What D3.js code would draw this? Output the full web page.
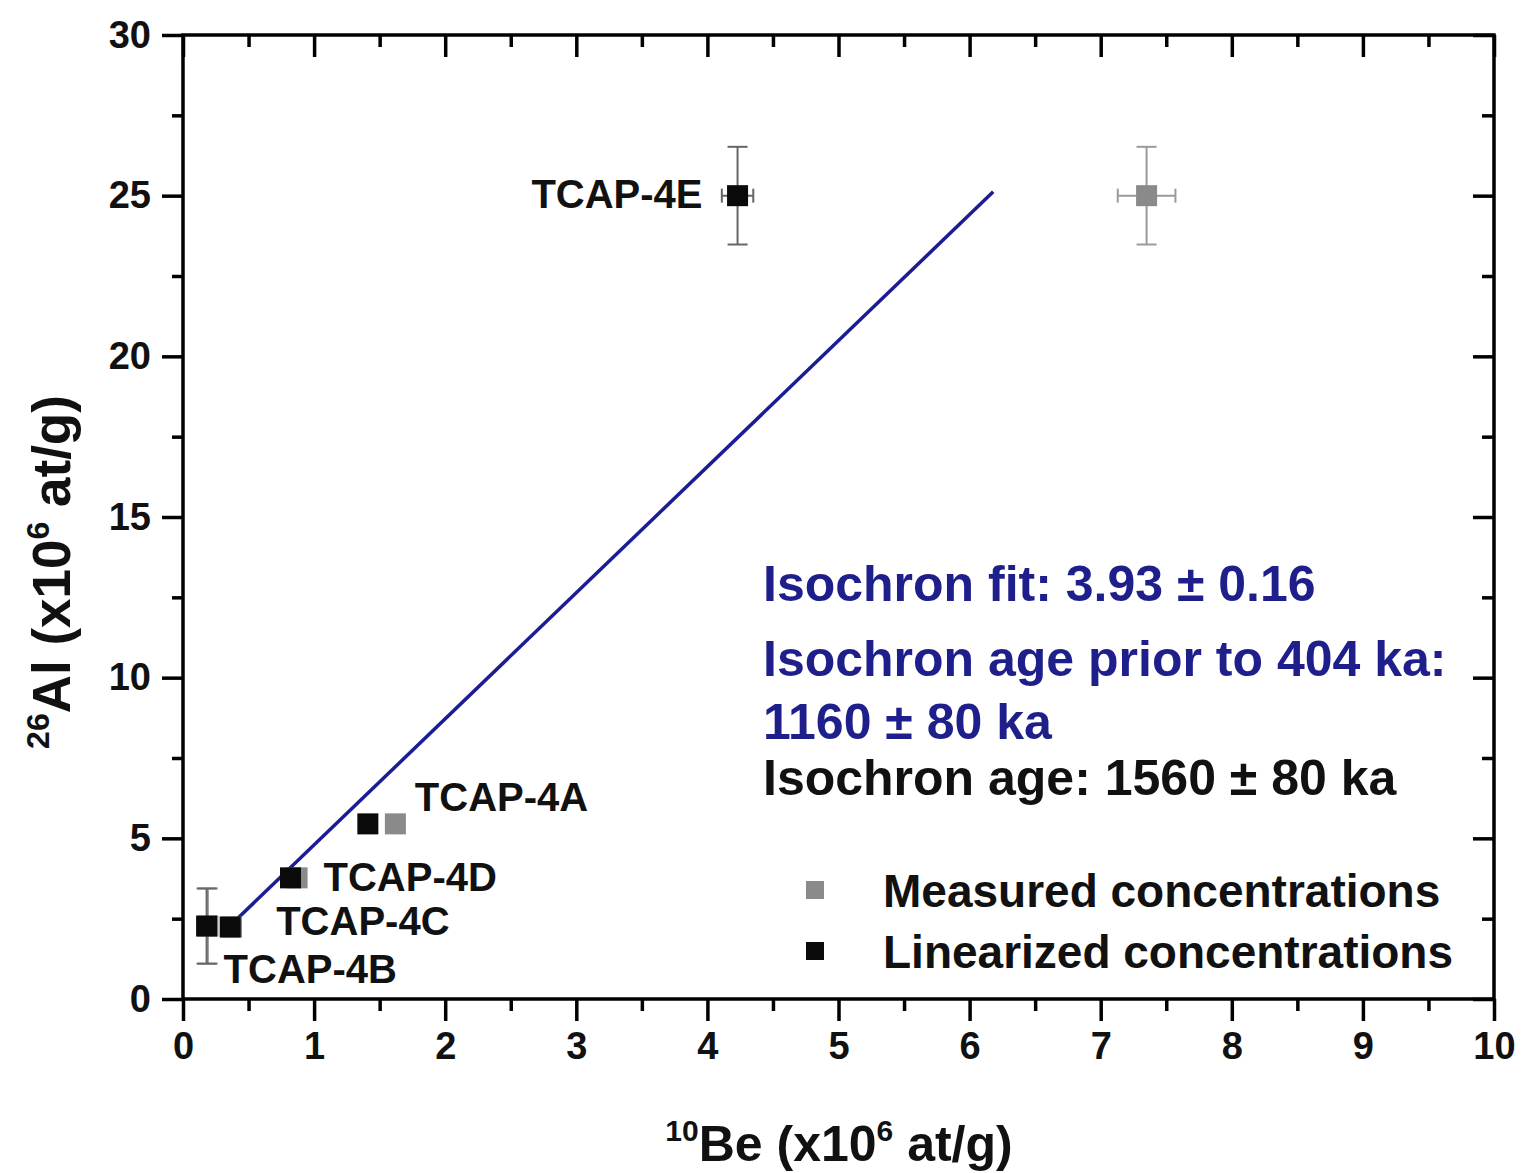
<!DOCTYPE html>
<html>
<head>
<meta charset="utf-8">
<script src="https://cdn.jsdelivr.net/npm/d3@7"></script>
<style>
body { margin: 0; background: #fff; }
svg { display: block; font-family: "Liberation Sans", Arial, sans-serif; font-weight: bold; }
</style>
</head>
<body>
<script>
var width = 1522,
	height = 1173;

var margin = {left: 183, right: 28, top: 35, bottom: 174};

// Samples (x10^6 at/g)
var samples = ["TCAP-4B", "TCAP-4C", "TCAP-4D", "TCAP-4A", "TCAP-4E"];
var measuredBe = [0.19, 0.37, 0.87, 1.62, 7.35];
var linearBe = [0.18, 0.36, 0.82, 1.41, 4.23];
var al = [2.27, 2.24, 3.77, 5.45, 25.0];
var alErr = [1.17, 0, 0, 0, 1.52];
var measuredBeErr = [0, 0, 0, 0, 0.22];
var linearBeErr = [0, 0, 0, 0, 0.12];

// Isochron fit line end points
var fitBe = [0.42, 6.18];
var fitAl = [2.52, 25.12];

var xTicks = [0, 1, 2, 3, 4, 5, 6, 7, 8, 9, 10];
var yTicks = [0, 5, 10, 15, 20, 25, 30];

var notes = [
	{text: "Isochron fit: 3.93 \u00b1 0.16", color: "#1f1f8c"},
	{text: "Isochron age prior to 404 ka:", color: "#1f1f8c"},
	{text: "1160 \u00b1 80 ka", color: "#1f1f8c"},
	{text: "Isochron age: 1560 \u00b1 80 ka", color: "#111"}
];
var legendLabels = ["Measured concentrations", "Linearized concentrations"];

var grey = "#8a8a8a",
	black = "#0a0a0a",
	fitColor = "#1c1c94";

var x = d3.scaleLinear()
	.domain([0, 10])
	.range([margin.left, width - margin.right]);

var y = d3.scaleLinear()
	.domain([0, 30])
	.range([height - margin.bottom, margin.top]);

var svg = d3.select("body").append("svg")
	.attr("width", width)
	.attr("height", height);

// minor tick positions
var xMinor = d3.range(0.5, 10, 1);
var yMinor = d3.range(2.5, 30, 5);

function styleAxis(g) {
	g.select(".domain").remove();
	g.selectAll("line").attr("stroke", "#000").attr("stroke-width", 3.5);
	g.selectAll("text").attr("fill", "#111").style("font-size", "38px").style("font-weight", "bold");
}

// bottom axis
svg.append("g")
	.attr("transform", "translate(0," + y(0) + ")")
	.call(d3.axisBottom(x).tickValues(xTicks).tickSize(22).tickPadding(11).tickFormat(d3.format("d")))
	.call(styleAxis);
svg.append("g")
	.attr("transform", "translate(0," + y(0) + ")")
	.call(d3.axisBottom(x).tickValues(xMinor).tickSize(12).tickFormat(""))
	.call(styleAxis);

// left axis
svg.append("g")
	.attr("transform", "translate(" + x(0) + ",0)")
	.call(d3.axisLeft(y).tickValues(yTicks).tickSize(21).tickPadding(11).tickFormat(d3.format("d")))
	.call(styleAxis);
svg.append("g")
	.attr("transform", "translate(" + x(0) + ",0)")
	.call(d3.axisLeft(y).tickValues(yMinor).tickSize(11).tickFormat(""))
	.call(styleAxis);

// top and right axes, ticks inward
svg.append("g")
	.attr("transform", "translate(0," + y(30) + ")")
	.call(d3.axisBottom(x).tickValues(xTicks).tickSize(22).tickFormat(""))
	.call(styleAxis);
svg.append("g")
	.attr("transform", "translate(0," + y(30) + ")")
	.call(d3.axisBottom(x).tickValues(xMinor).tickSize(12).tickFormat(""))
	.call(styleAxis);
svg.append("g")
	.attr("transform", "translate(" + x(10) + ",0)")
	.call(d3.axisLeft(y).tickValues(yTicks).tickSize(21).tickFormat(""))
	.call(styleAxis);
svg.append("g")
	.attr("transform", "translate(" + x(10) + ",0)")
	.call(d3.axisLeft(y).tickValues(yMinor).tickSize(12).tickFormat(""))
	.call(styleAxis);

// frame
svg.append("rect")
	.attr("x", x(0))
	.attr("y", y(30))
	.attr("width", x(10) - x(0))
	.attr("height", y(0) - y(30))
	.attr("fill", "none")
	.attr("stroke", "#000")
	.attr("stroke-width", 3.5);

// Axis titles
var xt = svg.append("text")
	.attr("x", 839)
	.attr("y", 1161)
	.attr("text-anchor", "middle")
	.style("font-size", "50px")
	.attr("fill", "#111");
xt.append("tspan").attr("dy", -20).style("font-size", "30px").text("10");
xt.append("tspan").attr("dy", 20).text("Be (x10");
xt.append("tspan").attr("dy", -20).style("font-size", "30px").text("6");
xt.append("tspan").attr("dy", 20).text(" at/g)");

var yt = svg.append("text")
	.attr("transform", "translate(70,572) rotate(-90)")
	.attr("text-anchor", "middle")
	.style("font-size", "53px")
	.attr("fill", "#111");
yt.append("tspan").attr("dy", -21).style("font-size", "32px").text("26");
yt.append("tspan").attr("dy", 21).text("Al (x10");
yt.append("tspan").attr("dy", -21).style("font-size", "32px").text("6");
yt.append("tspan").attr("dy", 21).text(" at/g)");

// Isochron fit line
svg.append("line")
	.attr("x1", x(fitBe[0]))
	.attr("y1", y(fitAl[0]))
	.attr("x2", x(fitBe[1]))
	.attr("y2", y(fitAl[1]))
	.attr("stroke", fitColor)
	.attr("stroke-width", 3.5);

// Draw a set of squares with error bars
function drawSeries(bes, beErrs, color, barColor) {
	var g = svg.append("g");
	samples.forEach(function(s, i) {
		var cx = x(bes[i]), cy = y(al[i]);
		if (alErr[i] > 0) {
			var y1 = y(al[i] + alErr[i]), y2 = y(al[i] - alErr[i]);
			g.append("line").attr("x1", cx).attr("x2", cx).attr("y1", y1).attr("y2", y2)
				.attr("stroke", barColor).attr("stroke-width", 2);
			g.append("line").attr("x1", cx - 10).attr("x2", cx + 10).attr("y1", y1).attr("y2", y1)
				.attr("stroke", barColor).attr("stroke-width", 2);
			g.append("line").attr("x1", cx - 10).attr("x2", cx + 10).attr("y1", y2).attr("y2", y2)
				.attr("stroke", barColor).attr("stroke-width", 2);
		}
		if (beErrs[i] > 0) {
			var x1 = x(bes[i] - beErrs[i]), x2 = x(bes[i] + beErrs[i]);
			g.append("line").attr("x1", x1).attr("x2", x2).attr("y1", cy).attr("y2", cy)
				.attr("stroke", barColor).attr("stroke-width", 2);
			g.append("line").attr("x1", x1).attr("x2", x1).attr("y1", cy - 7).attr("y2", cy + 7)
				.attr("stroke", barColor).attr("stroke-width", 2);
			g.append("line").attr("x1", x2).attr("x2", x2).attr("y1", cy - 7).attr("y2", cy + 7)
				.attr("stroke", barColor).attr("stroke-width", 2);
		}
	});
	g.selectAll("rect")
		.data(samples)
		.enter().append("rect")
		.attr("x", function(d, i) { return x(bes[i]) - 10.5; })
		.attr("y", function(d, i) { return y(al[i]) - 10.5; })
		.attr("width", 21)
		.attr("height", 21)
		.attr("fill", color);
}

drawSeries(measuredBe, measuredBeErr, grey, "#9a9a9a");
drawSeries(linearBe, linearBeErr, black, "#666");

// sample labels (pixel offsets from the linearized point)
var labelOffsets = [
	{dx: 17, dy: 57, anchor: "start"},
	{dx: 46, dy: 8, anchor: "start"},
	{dx: 33, dy: 13, anchor: "start"},
	{dx: 47, dy: -13, anchor: "start"},
	{dx: -35, dy: 12, anchor: "end"}
];
svg.selectAll(".lbl")
	.data(samples)
	.enter().append("text")
	.attr("class", "lbl")
	.attr("x", function(d, i) { return x(linearBe[i]) + labelOffsets[i].dx; })
	.attr("y", function(d, i) { return y(al[i]) + labelOffsets[i].dy; })
	.attr("text-anchor", function(d, i) { return labelOffsets[i].anchor; })
	.style("font-size", "40px")
	.attr("fill", "#111")
	.text(function(d) { return d; });

// annotation text
var noteY = [601, 676, 739, 795];
svg.selectAll(".note")
	.data(notes)
	.enter().append("text")
	.attr("class", "note")
	.attr("x", 763)
	.attr("y", function(d, i) { return noteY[i]; })
	.style("font-size", "50px")
	.attr("fill", function(d) { return d.color; })
	.text(function(d) { return d.text; });

// legend
var legendColors = [grey, black];
var legend = svg.selectAll(".legend")
	.data(legendLabels)
	.enter().append("g")
	.attr("class", "legend")
	.attr("transform", function(d, i) { return "translate(815," + (890 + i * 61) + ")"; });
legend.append("rect")
	.attr("x", -9)
	.attr("y", -9)
	.attr("width", 18)
	.attr("height", 18)
	.attr("fill", function(d, i) { return legendColors[i]; });
legend.append("text")
	.attr("x", 68)
	.attr("y", 17)
	.style("font-size", "46px")
	.attr("fill", "#111")
	.text(function(d) { return d; });
</script>
</body>
</html>
